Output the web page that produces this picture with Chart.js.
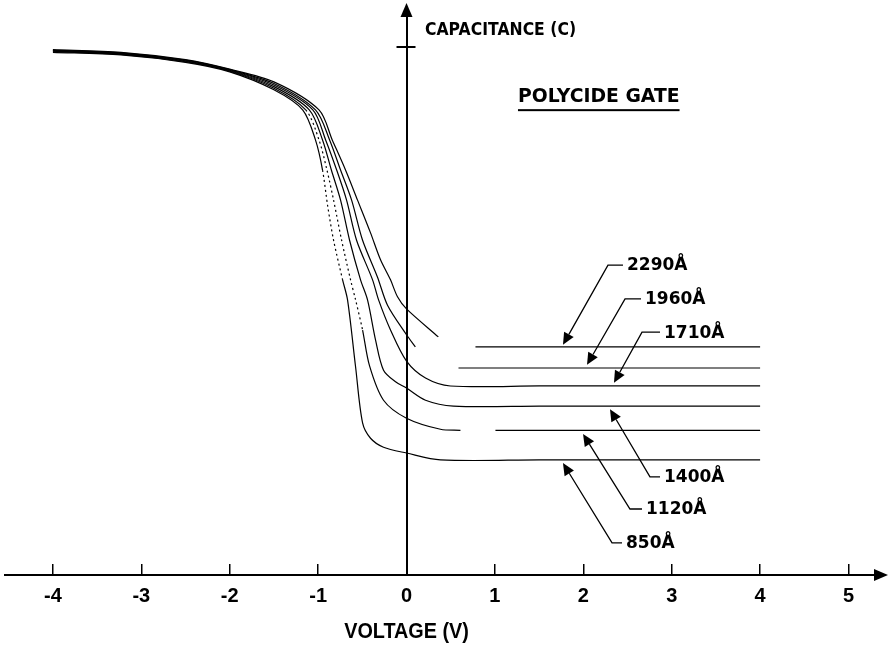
<!DOCTYPE html>
<html>
<head>
<meta charset="utf-8">
<script src="https://cdn.jsdelivr.net/npm/chart.js@4.4.0/dist/chart.umd.min.js"></script>
<style>
html,body{margin:0;padding:0;background:#fff;}
</style>
</head>
<body>
<canvas id="grafico" width="890" height="645"></canvas>
<script>
// ticks del eje de voltaje
const xTicks = [-4, -3, -2, -1, 0, 1, 2, 3, 4, 5];
const grosores = ['850Å', '1120Å', '1400Å', '1710Å', '1960Å', '2290Å'];

// curvas C-V (voltaje en V, capacitancia normalizada C/Cox); null = trazo cortado
const v850 = [-4.00, -3.23, -2.50, -2.00, -1.50, -1.175, -1.03, -0.95, -0.89, -0.825, -0.723, -0.667, -0.576, -0.497, -0.407, -0.26, 0, 0.384, 1.5, 4.0];
const c850 = [0.990, 0.985, 0.971, 0.953, 0.919, 0.881, 0.824, 0.767, 0.697, 0.634, 0.559, 0.521, 0.394, 0.288, 0.259, 0.242, 0.231, 0.218, 0.218, 0.218];

const v1120 = [-4.00, -3.23, -2.50, -2.00, -1.50, -1.14, -0.99, -0.90, -0.825, -0.734, -0.633, -0.576, -0.497, -0.418, -0.26, 0, 0.384, 0.61, 0.80, 1.006, 2.0, 4.0];
const c1120 = [0.991, 0.986, 0.972, 0.954, 0.922, 0.881, 0.824, 0.767, 0.710, 0.634, 0.559, 0.521, 0.464, 0.396, 0.331, 0.297, 0.276, 0.274, null, 0.274, 0.274, 0.274];

const v1400 = [-4.00, -3.23, -2.50, -2.00, -1.50, -1.10, -0.95, -0.85, -0.746, -0.644, -0.52, -0.441, -0.35, -0.26, -0.124, 0, 0.215, 0.531, 1.5, 4.0];
const c1400 = [0.992, 0.987, 0.973, 0.955, 0.925, 0.881, 0.824, 0.767, 0.710, 0.634, 0.559, 0.521, 0.445, 0.388, 0.366, 0.354, 0.331, 0.320, 0.320, 0.320];

const v1710 = [-4.00, -3.23, -2.50, -2.00, -1.50, -1.06, -0.915, -0.79, -0.678, -0.565, -0.384, -0.316, -0.181, 0, 0.215, 0.497, 1.5, 4.0];
const c1710 = [0.993, 0.988, 0.974, 0.956, 0.928, 0.881, 0.824, 0.767, 0.710, 0.634, 0.559, 0.521, 0.464, 0.405, 0.373, 0.358, 0.358, 0.358];

const v1960 = [-4.00, -3.23, -2.50, -2.00, -1.50, -1.03, -0.87, -0.746, -0.621, -0.497, -0.328, -0.215, 0, 0.10, 0.30, 0.588, 2.0, 4.0];
const c1960 = [0.994, 0.989, 0.975, 0.957, 0.931, 0.881, 0.824, 0.767, 0.710, 0.634, 0.564, 0.511, 0.455, 0.432, null, 0.392, 0.392, 0.392];

const v2290 = [-4.00, -3.23, -2.50, -2.00, -1.50, -0.99, -0.84, -0.69, -0.554, -0.407, -0.294, -0.181, -0.102, 0, 0.36, 0.55, 0.78, 2.0, 4.0];
const c2290 = [0.995, 0.990, 0.976, 0.958, 0.934, 0.881, 0.824, 0.767, 0.710, 0.648, 0.597, 0.559, 0.527, 0.504, 0.451, null, 0.432, 0.432, 0.432];

const curvas = [[v850, c850], [v1120, c1120], [v1400, c1400], [v1710, c1710], [v1960, c1960], [v2290, c2290]];

// tramos que en el original salen punteados (por espesor)
const tramosPunteados = [[-1.0, -0.70], [-1.2, -0.42], null, null, null, null];

// rotulos con flecha: texto (V, C), codo (V), punta (V, C)
const anotaciones = [
    {tv: 2.483, tc: 0.061, cv: 2.325, pv: 1.770, pc: 0.212},
    {tv: 2.709, tc: 0.125, cv: 2.528, pv: 1.997, pc: 0.267},
    {tv: 2.913, tc: 0.186, cv: 2.754, pv: 2.302, pc: 0.314},
    {tv: 2.913, tc: 0.460, cv: 2.664, pv: 2.347, pc: 0.364},
    {tv: 2.698, tc: 0.523, cv: 2.472, pv: 2.042, pc: 0.398},
    {tv: 2.494, tc: 0.587, cv: 2.279, pv: 1.770, pc: 0.436}
];

const dibujo = {
    id: 'dibujo',
    afterDraw(chart) {
        const ctx = chart.ctx;
        const x = chart.scales.x, y = chart.scales.y;
        const x0 = x.getPixelForValue(0), y0 = y.getPixelForValue(0);
        ctx.save();
        ctx.fillStyle = '#000';
        ctx.strokeStyle = '#000';

        // puntas de flecha de los ejes
        ctx.beginPath();
        ctx.moveTo(x.right - 2, y0 - 6);
        ctx.lineTo(x.right + 12, y0);
        ctx.lineTo(x.right - 2, y0 + 6);
        ctx.closePath();
        ctx.fill();
        ctx.beginPath();
        ctx.moveTo(x0 - 6, y.top + 2);
        ctx.lineTo(x0, y.top - 12);
        ctx.lineTo(x0 + 6, y.top + 2);
        ctx.closePath();
        ctx.fill();

        // marca de Cox
        const yc = y.getPixelForValue(1);
        ctx.lineWidth = 2;
        ctx.beginPath();
        ctx.moveTo(x0 - 10, yc);
        ctx.lineTo(x0 + 9, yc);
        ctx.stroke();

        // textos
        ctx.textBaseline = 'middle';
        ctx.textAlign = 'left';
        ctx.save();
        ctx.translate(x.getPixelForValue(0.209), y.getPixelForValue(1.032));
        ctx.scale(0.92, 1);
        ctx.font = 'bold 17px "DejaVu Sans"';
        ctx.fillText('CAPACITANCE (C)', 0, 0);
        ctx.restore();

        ctx.font = 'bold 18.8px "DejaVu Sans"';
        const px = x.getPixelForValue(1.261), py = y.getPixelForValue(0.905);
        ctx.fillText('POLYCIDE GATE', px, py);
        const w = ctx.measureText('POLYCIDE GATE').width;
        ctx.fillRect(px, py + 12, w, 2);

        ctx.save();
        ctx.translate(x0, y0 + 57);
        ctx.scale(0.9, 1);
        ctx.textAlign = 'center';
        ctx.font = 'bold 22px "Liberation Sans"';
        ctx.fillText('VOLTAGE (V)', 0, 0);
        ctx.restore();

        // rotulos de espesor
        ctx.textAlign = 'left';
        ctx.font = 'bold 17px "DejaVu Sans"';
        ctx.lineWidth = 1.3;
        anotaciones.forEach((a, i) => {
            const tx = x.getPixelForValue(a.tv), ty = y.getPixelForValue(a.tc);
            const ex = x.getPixelForValue(a.cv);
            const qx = x.getPixelForValue(a.pv), qy = y.getPixelForValue(a.pc);
            const ang = Math.atan2(qy - ty, qx - ex);
            const bx = qx - 12 * Math.cos(ang), by = qy - 12 * Math.sin(ang);
            ctx.beginPath();
            ctx.moveTo(tx - 4, ty);
            ctx.lineTo(ex, ty);
            ctx.lineTo(bx, by);
            ctx.stroke();
            ctx.beginPath();
            ctx.moveTo(qx, qy);
            ctx.lineTo(bx + 5.5 * Math.sin(ang), by - 5.5 * Math.cos(ang));
            ctx.lineTo(bx - 5.5 * Math.sin(ang), by + 5.5 * Math.cos(ang));
            ctx.closePath();
            ctx.fill();
            ctx.fillText(grosores[i], tx, ty + 1);
        });
        ctx.restore();
    }
};

new Chart(document.getElementById('grafico'), {
    type: 'line',
    data: {
        datasets: curvas.map((c, i) => ({
            label: grosores[i],
            data: c[0].map((v, j) => ({x: v, y: c[1][j]})),
            borderColor: '#000',
            borderWidth: 1.2,
            pointRadius: 0,
            fill: false,
            spanGaps: false,
            tension: 0.3,
            segment: {
                borderDash: s => {
                    const t = tramosPunteados[i];
                    if (t && s.p0.parsed.x >= t[0] && s.p1.parsed.x <= t[1]) return [2, 3];
                    return undefined;
                }
            }
        }))
    },
    options: {
        responsive: false,
        animation: false,
        layout: {padding: {left: 5, right: 14, top: 15, bottom: 70}},
        plugins: {legend: {display: false}, tooltip: {enabled: false}},
        scales: {
            x: {
                type: 'linear',
                position: {y: 0},
                min: -4.542,
                max: 5.311,
                afterBuildTicks: s => { s.ticks = xTicks.map(v => ({value: v})); },
                grid: {drawOnChartArea: false, drawTicks: true, tickLength: -12, color: '#000', lineWidth: 1.5},
                border: {color: '#000', width: 2},
                ticks: {
                    color: '#000',
                    padding: 21,
                    autoSkip: false,
                    maxRotation: 0,
                    font: {family: 'Liberation Sans', size: 20, weight: 'bold'},
                    callback: v => String(v)
                }
            },
            y: {
                type: 'linear',
                position: {x: 0},
                min: 0,
                max: 1.0606,
                afterBuildTicks: s => { s.ticks = []; },
                grid: {display: false},
                border: {color: '#000', width: 2},
                ticks: {display: false}
            }
        }
    },
    plugins: [dibujo]
});
</script>
</body>
</html>
